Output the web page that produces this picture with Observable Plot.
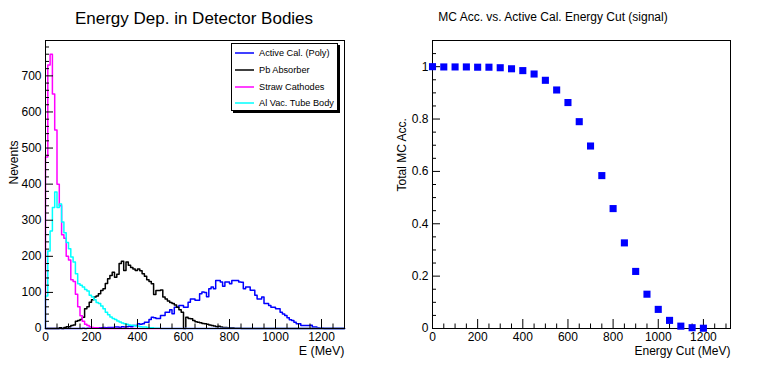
<!DOCTYPE html>
<html><head><meta charset="utf-8">
<script src="https://cdn.jsdelivr.net/npm/d3@7"></script>
<script src="https://cdn.jsdelivr.net/npm/@observablehq/plot@0.6"></script>
<style>
body{margin:0;background:#fff;font-family:"Liberation Sans",Arial,Helvetica,sans-serif}
#wrap{position:relative;width:775px;height:368px;overflow:hidden;background:#fff}
.panel{position:absolute;top:0}
.title{position:absolute;white-space:nowrap;transform:translate(-50%,-50%);color:#000;line-height:1}
#legend{position:absolute;box-sizing:border-box;border:1px solid #000;box-shadow:2px 2px 0 #000;background:#fff;font-size:9.2px}
#legend .row{position:absolute;left:0;height:14px;display:flex;align-items:center;white-space:nowrap}
#legend svg{display:block;margin-left:3px;margin-right:5px}
</style></head><body>
<div id="wrap"></div>
<script>
// ---------- data: left panel (histograms, 10 MeV bins from 0 to 1300) ----------
const binWidth = 10;
const seriesNames = ["Active Cal. (Poly)", "Pb Absorber", "Straw Cathodes", "Al Vac. Tube Body"];
const seriesColors = ["#0000ff", "#000000", "#ff00ff", "#00ffff"];
const activeCal = [
  0,0,0,0,0,0,0,0,0,0,
  0,0,0,0,0,0,1,0,1,1,
  1,2,1,2,2,3,2,3,3,3,
  4,4,3,5,4,5,6,5,8,8,
  13,12,13,17,17,25,31,30,28,28,
  36,36,45,45,52,41,59,59,64,64,
  59,59,73,82,82,78,78,96,101,100,
  88,110,115,110,133,133,129,117,129,129,
  124,133,133,133,129,128,110,115,115,106,
  106,92,82,82,87,69,69,64,59,59,
  55,55,45,40,36,30,24,22,17,13,
  13,8,8,8,8,9,4,4,2,1,
  1,0,0,0,0,0,0,0,0,0
];
const pbAbsorber = [
  0,0,0,0,0,0,2,0,3,5,
  5,8,10,20,22,25,31,55,60,73,
  80,87,90,96,105,110,125,138,147,156,
  142,150,180,186,161,184,175,169,165,161,
  165,160,152,145,135,130,124,94,105,105,
  107,87,82,76,72,69,65,59,52,45,
  0,31,28,27,22,19,17,16,14,13,
  12,10,8,7,5,6,4,3,3,2,
  2,2,1,1,1,0,0,0,0,0,
  0,0,0,0,0,0,0,0,0,0,
  0,0,0,0,0,0,0,0,0,0,
  0,0,0,0,0,0,0,0,0,0,
  0,0,0,0,0,0,0,0,0,0
];
const strawCathodes = [
  475,730,760,650,550,400,340,260,250,200,
  190,135,130,95,60,35,20,12,8,5,
  3,2,2,1,0,0,0,0,0,0,
  0,0,0,0,0,0,0,0,0,0,
  0,0,0,0,0,0,0,0,0,0,
  0,0,0,0,0,0,0,0,0,0,
  0,0,0,0,0,0,0,0,0,0,
  0,0,0,0,0,0,0,0,0,0,
  0,0,0,0,0,0,0,0,0,0,
  0,0,0,0,0,0,0,0,0,0,
  0,0,0,0,0,0,0,0,0,0,
  0,0,0,0,0,0,0,0,0,0,
  0,0,0,0,0,0,0,0,0,0
];
const alVacTube = [
  90,215,270,335,378,335,345,295,265,238,
  221,198,184,152,124,120,115,108,104,92,
  87,80,72,69,62,55,45,38,32,28,
  25,21,18,15,13,12,10,9,8,7,
  6,5,4,4,3,2,2,1,1,1,
  0,0,0,0,0,0,0,0,0,0,
  0,0,0,0,0,0,0,0,0,0,
  0,0,0,0,0,0,0,0,0,0,
  0,0,0,0,0,0,0,0,0,0,
  0,0,0,0,0,0,0,0,0,0,
  0,0,0,0,0,0,0,0,0,0,
  0,0,0,0,0,0,0,0,0,0,
  0,0,0,0,0,0,0,0,0,0
];
const seriesValues = [activeCal, pbAbsorber, strawCathodes, alVacTube];

// ---------- data: right panel ----------
const energyCuts = [0,50,100,150,200,250,300,350,400,450,500,550,600,650,700,750,800,850,900,950,1000,1050,1100,1150,1200];
const mcAcceptance = [1.0,0.999,0.999,0.999,0.998,0.998,0.996,0.992,0.985,0.972,0.948,0.911,0.863,0.79,0.697,0.584,0.458,0.327,0.218,0.131,0.073,0.031,0.009,0.003,0.001];

// ---------- tick labels ----------
const leftXTicks = [0,200,400,600,800,1000,1200];
const leftYTicks = [0,100,200,300,400,500,600,700];
const rightXTicks = [0,200,400,600,800,1000,1200];
const rightYTicks = [0,0.2,0.4,0.6,0.8,1];

// ---------- helpers ----------
const W = 775, H = 368;
const leftW = 387, rightW = W - leftW;
const mT = 40, mB = 40;
const plotH = H - mT - mB;

function range(a, b, s) { const r = []; for (let v = a; v <= b + 1e-9; v += s) r.push(+v.toFixed(6)); return r; }

function rootAxes({xDomain, yDomain, plotW, xMajor, xMinorStep, yMajor, yMinorStep, yFmt}) {
  const xPerPx = (xDomain[1] - xDomain[0]) / plotW;
  const yPerPx = (yDomain[1] - yDomain[0]) / plotH;
  const xMinor = range(0, xDomain[1], xMinorStep).filter(v => !xMajor.some(m => Math.abs(m - v) < 1e-6));
  const yMinor = range(0, yDomain[1], yMinorStep).filter(v => !yMajor.some(m => Math.abs(m - v) < 1e-6));
  return [
    Plot.ruleX(xMajor, {x: d => d, y1: yDomain[0], y2: yDomain[0] + 9 * yPerPx, stroke: "#000"}),
    Plot.ruleX(xMinor, {x: d => d, y1: yDomain[0], y2: yDomain[0] + 4.5 * yPerPx, stroke: "#000"}),
    Plot.ruleY(yMajor, {y: d => d, x1: xDomain[0], x2: xDomain[0] + 8 * xPerPx, stroke: "#000"}),
    Plot.ruleY(yMinor, {y: d => d, x1: xDomain[0], x2: xDomain[0] + 4 * xPerPx, stroke: "#000"}),
    Plot.axisX({ticks: xMajor, tickSize: 0, tickPadding: 4, label: null, tickFormat: d => String(d)}),
    Plot.axisY({ticks: yMajor, tickSize: 0, tickPadding: 4, label: null, tickFormat: yFmt || (d => String(d))}),
    Plot.frame({stroke: "#000", strokeWidth: 1})
  ];
}

const baseStyle = {fontFamily: '"Liberation Sans", Arial, sans-serif', fontSize: "12px", color: "#000", background: "transparent", overflow: "visible"};

// ---------- left plot ----------
const leftXDomain = [0, 1300], leftYDomain = [0, 798];
const histMarks = seriesValues.map((vals, s) => {
  const pts = [{x: 0, y: 0}];
  vals.forEach((v, i) => pts.push({x: i * binWidth, y: v}));
  pts.push({x: vals.length * binWidth, y: vals[vals.length - 1]});
  return Plot.line(pts, {x: "x", y: "y", curve: "step-after", stroke: seriesColors[s], strokeWidth: 1.5});
});

const left = Plot.plot({
  width: leftW, height: H,
  marginLeft: 45, marginRight: leftW - 344, marginTop: mT, marginBottom: mB,
  x: {domain: leftXDomain}, y: {domain: leftYDomain},
  style: baseStyle,
  marks: [
    ...histMarks,
    ...rootAxes({xDomain: leftXDomain, yDomain: leftYDomain, plotW: 344 - 45, xMajor: leftXTicks, xMinorStep: 50, yMajor: leftYTicks, yMinorStep: 20}),
    Plot.text(["E (MeV)"], {frameAnchor: "bottom-right", textAnchor: "end", dy: 26.5, fontSize: 12.5}),
    Plot.text(["Nevents"], {frameAnchor: "left", rotate: -90, dx: -31, fontSize: 12})
  ]
});

// ---------- right plot ----------
const rightXDomain = [0, 1320], rightYDomain = [0, 1.1];
const rML = 432 - leftW, rMR = W - 730;
const right = Plot.plot({
  width: rightW, height: H,
  marginLeft: rML, marginRight: rMR, marginTop: mT, marginBottom: mB,
  x: {domain: rightXDomain}, y: {domain: rightYDomain},
  style: baseStyle,
  marks: [
    ...rootAxes({xDomain: rightXDomain, yDomain: rightYDomain, plotW: 730 - 432, xMajor: rightXTicks, xMinorStep: 50, yMajor: rightYTicks, yMinorStep: 0.05,
      yFmt: d => d === 0 ? "0" : d === 1 ? "1" : d.toFixed(1)}),
    Plot.dot(energyCuts.map((e, i) => ({e, a: mcAcceptance[i]})), {x: "e", y: "a", symbol: "square", r: 4, fill: "#0000ff", stroke: "none"}),
    Plot.text(["Energy Cut (MeV)"], {frameAnchor: "bottom-right", textAnchor: "end", dy: 26.5, fontSize: 12}),
    Plot.text(["Total MC Acc."], {frameAnchor: "left", rotate: -90, dx: -30, dy: 7, fontSize: 12})
  ]
});

// ---------- assemble ----------
const wrap = document.getElementById("wrap");
left.classList.add("panel"); left.style.left = "0px";
right.classList.add("panel"); right.style.left = leftW + "px";
wrap.appendChild(left); wrap.appendChild(right);

function addTitle(text, cx, cy, size) {
  const t = document.createElement("div");
  t.className = "title"; t.textContent = text;
  t.style.left = cx + "px"; t.style.top = cy + "px"; t.style.fontSize = size + "px";
  wrap.appendChild(t);
}
addTitle("Energy Dep. in Detector Bodies", 194, 18, 17);
addTitle("MC Acc. vs. Active Cal. Energy Cut (signal)", 553, 17, 12);

// legend
const lg = document.createElement("div");
lg.id = "legend";
lg.style.left = "231px"; lg.style.top = "43px"; lg.style.width = "107px"; lg.style.height = "68px";
const svgNS = "http://www.w3.org/2000/svg";
seriesNames.forEach((name, i) => {
  const row = document.createElement("div");
  row.className = "row";
  row.style.top = Math.round(2 + i * 16.8) + "px";
  const sw = document.createElementNS(svgNS, "svg");
  sw.setAttribute("width", "19"); sw.setAttribute("height", "6");
  const ln = document.createElementNS(svgNS, "line");
  ln.setAttribute("x1", "0"); ln.setAttribute("x2", "19");
  ln.setAttribute("y1", "3"); ln.setAttribute("y2", "3");
  ln.setAttribute("stroke", seriesColors[i]); ln.setAttribute("stroke-width", "1.5");
  sw.appendChild(ln);
  const tx = document.createElement("span");
  tx.textContent = name;
  row.appendChild(sw); row.appendChild(tx);
  lg.appendChild(row);
});
wrap.appendChild(lg);
</script>
</body></html>
